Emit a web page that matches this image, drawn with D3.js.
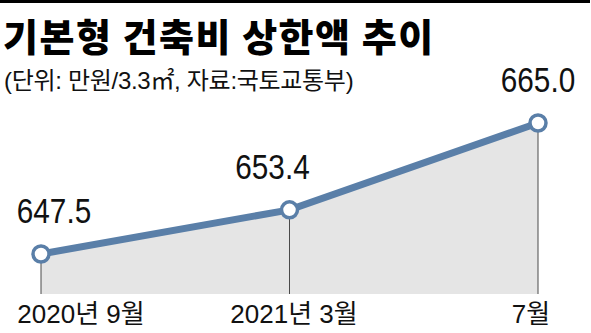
<!DOCTYPE html>
<html>
<head>
<meta charset="utf-8">
<script src="https://cdn.jsdelivr.net/npm/d3@7"></script>
<style>
  body { margin: 0; background: #fff; }
  svg { display: block; }
</style>
</head>
<body>
<div id="chart"></div>
<script>
// 기본형 건축비 상한액 추이 (단위: 만원/3.3㎡)
const periods = ['2020년 9월', '2021년 3월', '7월'];
const values = [647.5, 653.4, 665.0];
const valueLabels = ['647.5', '653.4', '665.0'];

const W = 591, H = 333;
const opts = {
    lineColor: '#5a7fa8',
    areaFill: '#e5e5e5',
    dropColor: '#4a4a4a',
    textColor: '#111',
    numFont: '"Liberation Sans", Arial, sans-serif',
    krFont: '"Noto Sans CJK KR", "Noto Sans", sans-serif'
};

const svg = d3.select('#chart')
    .append('svg')
    .attr('width', W)
    .attr('height', H);

// 상단 검은 띠
svg.append('rect')
    .attr('x', 0).attr('y', 0)
    .attr('width', W - 1).attr('height', 3)
    .attr('fill', '#000');

// 제목
svg.append('text')
    .attr('x', 3).attr('y', 51)
    .attr('font-family', opts.krFont)
    .attr('font-weight', 900)
    .attr('font-size', 38)
    .attr('letter-spacing', 1.5)
    .attr('fill', '#000')
    .text('기본형 건축비 상한액 추이');

svg.append('text')
    .attr('x', 4).attr('y', 89)
    .attr('font-family', opts.numFont + ',' + opts.krFont)
    .attr('font-size', 24)
    .attr('letter-spacing', -0.3)
    .attr('fill', '#111')
    .text('(단위: 만원/3.3㎡, 자료:국토교통부)');

// 스케일
const baseline = 294;
const x = d3.scalePoint()
    .domain(periods)
    .range([41, 538]);

const y = d3.scaleLinear()
    .domain([647.5, 665.0])
    .range([254, 123]);

const data = periods.map((p, i) => ({ period: p, value: values[i], label: valueLabels[i] }));

// 면적
const area = d3.area()
    .x(d => x(d.period))
    .y0(baseline)
    .y1(d => y(d.value));

svg.append('path')
    .datum(data)
    .attr('d', area)
    .attr('fill', opts.areaFill);

// 수직선
svg.selectAll('.drop')
    .data(data)
    .enter()
    .append('line')
    .attr('class', 'drop')
    .attr('x1', d => x(d.period))
    .attr('x2', d => x(d.period))
    .attr('y1', d => y(d.value))
    .attr('y2', baseline)
    .attr('stroke', opts.dropColor)
    .attr('stroke-width', 1);

// 선
const line = d3.line()
    .x(d => x(d.period))
    .y(d => y(d.value));

svg.append('path')
    .datum(data)
    .attr('d', line)
    .attr('fill', 'none')
    .attr('stroke', opts.lineColor)
    .attr('stroke-width', 7);

// 점
svg.selectAll('.dot')
    .data(data)
    .enter()
    .append('circle')
    .attr('class', 'dot')
    .attr('cx', d => x(d.period))
    .attr('cy', d => y(d.value))
    .attr('r', 8)
    .attr('fill', '#fff')
    .attr('stroke', opts.lineColor)
    .attr('stroke-width', 3.5);

// 값 라벨 (좁은 글꼴 느낌을 위해 가로로 압축)
const valueShift = [13, -17, 0];
const squeeze = 0.85;
svg.selectAll('.val')
    .data(data)
    .enter()
    .append('text')
    .attr('class', 'val')
    .attr('transform', (d, i) =>
        `translate(${x(d.period) + valueShift[i]},${y(d.value) - 31}) scale(${squeeze},1)`)
    .attr('text-anchor', 'middle')
    .attr('font-family', opts.numFont)
    .attr('font-size', 35)
    .attr('fill', opts.textColor)
    .text(d => d.label);

// x축 라벨
const periodShift = [40, 4.5, -7];
svg.selectAll('.xlab')
    .data(data)
    .enter()
    .append('text')
    .attr('class', 'xlab')
    .attr('x', (d, i) => x(d.period) + periodShift[i])
    .attr('y', 323)
    .attr('text-anchor', 'middle')
    .attr('font-family', opts.numFont + ',' + opts.krFont)
    .attr('font-size', 26)
    .attr('fill', opts.textColor)
    .text(d => d.period);
</script>
</body>
</html>
